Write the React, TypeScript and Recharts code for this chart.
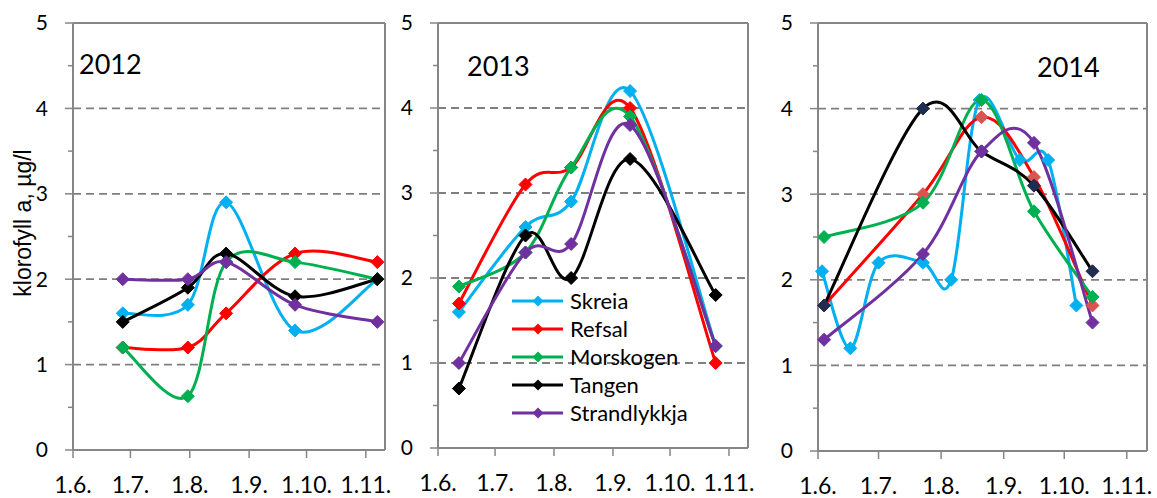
import React from 'react';
import { LineChart, Line, XAxis, YAxis, CartesianGrid, ReferenceLine, Label } from 'recharts';

// x values are days counted from 1 June
const monthTicks = [0, 30, 61, 92, 122, 153];
const monthLabels = ['1.6.', '1.7.', '1.8.', '1.9.', '1.10.', '1.11.'];
const yTicks = [0, 0.5, 1, 1.5, 2, 2.5, 3, 3.5, 4, 4.5, 5];
const gridValues = [1, 2, 3, 4];

const seriesNames = ['Skreia', 'Refsal', 'Morskogen', 'Tangen', 'Strandlykkja'];
const seriesColors = ['#00B0F0', '#FF0000', '#00B050', '#000000', '#7030A0'];

// 2012
const days2012 = [26, 60, 80, 116, 159];
const skreia2012 = [1.6, 1.7, 2.9, 1.4, 2.0];
const refsal2012 = [1.2, 1.2, 1.6, 2.3, 2.2];
const morskogen2012 = [1.2, 0.63, 2.2, 2.2, 2.0];
const tangen2012 = [1.5, 1.9, 2.3, 1.8, 2.0];
const strand2012 = [2.0, 2.0, 2.2, 1.7, 1.5];

// 2013
const days2013 = [11, 46, 70, 101, 146];
const skreia2013 = [1.6, 2.6, 2.9, 4.2, 1.2];
const refsal2013 = [1.7, 3.1, 3.3, 4.0, 1.0];
const morskogen2013 = [1.9, 2.3, 3.3, 3.9, 1.2];
const tangen2013 = [0.7, 2.5, 2.0, 3.4, 1.8];
const strand2013 = [1.0, 2.3, 2.4, 3.8, 1.2];

// 2014
const skreiaDays2014 = [2, 16, 30, 52, 66, 80, 100, 114, 128];
const skreia2014 = [2.1, 1.2, 2.2, 2.2, 2.0, 4.1, 3.4, 3.4, 1.7];
const days2014 = [3, 52, 81, 107, 136];
const refsal2014 = [1.7, 3.0, 3.9, 3.2, 1.7];
const morskogen2014 = [2.5, 2.9, 4.1, 2.8, 1.8];
const tangen2014 = [1.7, 4.0, 3.5, 3.1, 2.1];
const strand2014 = [1.3, 2.3, 3.5, 3.6, 1.5];

const axisGray = '#868686';

const toRows = (days: number[], vals: number[]) => days.map((d, i) => ({ day: d, value: vals[i] }));

// Excel-style smoothing (Catmull-Rom as cubic Bezier)
const excelCurve = (context: any) => {
  let pts: number[][] = [];
  return {
    areaStart() {},
    areaEnd() {},
    lineStart() {
      pts = [];
    },
    lineEnd() {
      const n = pts.length;
      if (!n) return;
      context.moveTo(pts[0][0], pts[0][1]);
      for (let i = 0; i < n - 1; i++) {
        const p0 = pts[Math.max(i - 1, 0)];
        const p1 = pts[i];
        const p2 = pts[i + 1];
        const p3 = pts[Math.min(i + 2, n - 1)];
        context.bezierCurveTo(
          p1[0] + (p2[0] - p0[0]) / 6,
          p1[1] + (p2[1] - p0[1]) / 6,
          p2[0] - (p3[0] - p1[0]) / 6,
          p2[1] - (p3[1] - p1[1]) / 6,
          p2[0],
          p2[1]
        );
      }
    },
    point(x: number, y: number) {
      pts.push([+x, +y]);
    },
  };
};

const diamondPath = (cx: number, cy: number, s: number) =>
  `M${cx},${cy - s}L${cx + s},${cy}L${cx},${cy + s}L${cx - s},${cy}Z`;

const makeDot = (fill: string, stroke: string) => (props: any) => {
  const { cx, cy, index } = props;
  if (cx == null || cy == null) return <g key={index} />;
  return <path key={index} d={diamondPath(cx, cy, 6.5)} fill={fill} stroke={stroke} strokeWidth={1} />;
};

const YTick = (props: any) => {
  const { x, y, payload } = props;
  const major = Number.isInteger(payload.value);
  return (
    <g>
      <line x1={x - (major ? 8 : 5)} x2={x} y1={y} y2={y} stroke={axisGray} strokeWidth={1.5} />
      {major && (
        <text x={x - 25} y={y} dy="0.35em" textAnchor="end" fontSize={21} fontFamily="Lato" fill="#000">
          {payload.value}
        </text>
      )}
    </g>
  );
};

interface SeriesDef {
  name: string;
  color: string;
  marker: string;
  data: { day: number; value: number }[];
}

interface PanelProps {
  left: number;
  width: number;
  yAxisWidth: number;
  rightMargin: number;
  xAxisHeight: number;
  year: string;
  yearX: number;
  yearY: number;
  series: SeriesDef[];
  yLabel?: boolean;
  legend?: boolean;
}

const Panel = ({ left, width, yAxisWidth, rightMargin, xAxisHeight, year, yearX, yearY, series, yLabel, legend }: PanelProps) => (
  <div style={{ position: 'absolute', left, top: 0 }}>
    <LineChart width={width} height={498} margin={{ top: 23, right: rightMargin, left: 0, bottom: 0 }}>
      <CartesianGrid
        vertical={false}
        horizontalValues={gridValues}
        stroke="#7f7f7f"
        strokeDasharray="8 5"
        strokeWidth={1.8}
      />
      <ReferenceLine y={5} stroke={axisGray} strokeWidth={2} />
      <ReferenceLine x={163} stroke={axisGray} strokeWidth={2} />
      <XAxis
        type="number"
        dataKey="day"
        domain={[0, 163]}
        ticks={monthTicks}
        interval={0}
        tickFormatter={(v: number) => monthLabels[monthTicks.indexOf(v)]}
        height={xAxisHeight}
        tickSize={8}
        tickMargin={19}
        axisLine={{ stroke: axisGray, strokeWidth: 2 }}
        tickLine={{ stroke: axisGray, strokeWidth: 1.5 }}
        tick={{ fill: '#000', fontSize: 23, fontFamily: 'Lato' }}
      />
      <YAxis
        type="number"
        domain={[0, 5]}
        ticks={yTicks}
        interval={0}
        width={yAxisWidth}
        tickSize={0}
        tickMargin={0}
        tickLine={false}
        tick={YTick}
        axisLine={{ stroke: axisGray, strokeWidth: 2 }}
      >
        {yLabel && (
          <Label
            content={() => (
              <text
                x={23}
                y={223}
                transform="rotate(-90, 23, 223)"
                textAnchor="middle"
                dy="0.35em"
                fontSize={23}
                fontFamily="Liberation Sans"
                fill="#000"
              >
                klorofyll a, µg/l
              </text>
            )}
          />
        )}
      </YAxis>
      {series.map((s) => (
        <Line
          key={s.name}
          data={s.data}
          dataKey="value"
          name={s.name}
          type={excelCurve as any}
          stroke={s.color}
          strokeWidth={3}
          dot={makeDot(s.marker, s.marker)}
          activeDot={false}
          isAnimationActive={false}
        />
      ))}
      <text x={yearX} y={yearY} fontSize={27} fontFamily="Lato" fill="#000">
        {year}
      </text>
      {legend &&
        seriesNames.map((n, i) => {
          const y = 301 + i * 28;
          return (
            <g key={n}>
              <line x1={117} x2={168} y1={y} y2={y} stroke={seriesColors[i]} strokeWidth={3} />
              <path d={diamondPath(143, y, 5.5)} fill={seriesColors[i]} />
              <text x={175} y={y} dy="0.35em" fontSize={22} fontFamily="Lato" fill="#000">
                {n}
              </text>
            </g>
          );
        })}
    </LineChart>
  </div>
);

const build = (dayList: number[][], valList: number[][], markers: string[]): SeriesDef[] =>
  seriesNames.map((name, i) => ({
    name,
    color: seriesColors[i],
    marker: markers[i],
    data: toRows(dayList[i], valList[i]),
  }));

const series2012 = build(
  [days2012, days2012, days2012, days2012, days2012],
  [skreia2012, refsal2012, morskogen2012, tangen2012, strand2012],
  seriesColors
);
const series2013 = build(
  [days2013, days2013, days2013, days2013, days2013],
  [skreia2013, refsal2013, morskogen2013, tangen2013, strand2013],
  seriesColors
);
const series2014 = build(
  [skreiaDays2014, days2014, days2014, days2014, days2014],
  [skreia2014, refsal2014, morskogen2014, tangen2014, strand2014],
  ['#00B0F0', '#D9534F', '#00B050', '#1F2D50', '#7030A0']
);

export default function App() {
  return (
    <div style={{ position: 'absolute', left: 0, top: 0, width: 1157, height: 498, background: '#fff' }}>
      <Panel left={0} width={395} yAxisWidth={73} rightMargin={10} xAxisHeight={48} year="2012" yearX={79} yearY={74} series={series2012} yLabel />
      <Panel left={395} width={360} yAxisWidth={43} rightMargin={7} xAxisHeight={50} year="2013" yearX={72} yearY={76} series={series2013} legend />
      <Panel left={760} width={397} yAxisWidth={58} rightMargin={10} xAxisHeight={47} year="2014" yearX={277} yearY={77} series={series2014} />
    </div>
  );
}
